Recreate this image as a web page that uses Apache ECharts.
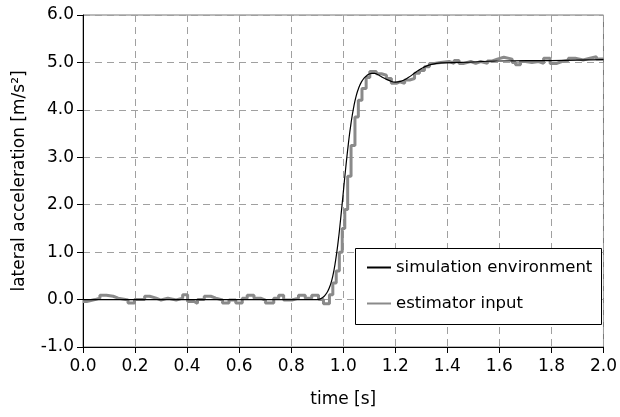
<!DOCTYPE html>
<html>
<head>
<meta charset="utf-8">
<title>lateral acceleration</title>
<script src="https://cdn.jsdelivr.net/npm/echarts@6/dist/echarts.min.js"></script>
<style>
  html, body { margin: 0; padding: 0; background: #fff; }
  #charts { width: 620px; height: 417px; }
</style>
</head>
<body>
<div id="charts"></div>
<script>
// 仿真环境（黑色平滑曲线）
var simTime  = [0.0, 0.5, 0.88, 0.9, 0.91, 0.92, 0.93, 0.94, 0.95, 0.96, 0.97, 0.98, 0.99, 1.0, 1.01, 1.02, 1.03, 1.04, 1.05,
  1.06, 1.07, 1.08, 1.09, 1.1, 1.11, 1.12, 1.13, 1.14, 1.16, 1.18, 1.2, 1.22, 1.25, 1.28, 1.31, 1.34, 1.38, 1.45, 1.6, 1.8, 2.0];
var simValue = [0.0, 0.0, 0.0, 0.0, 0.01, 0.04, 0.09, 0.17, 0.3, 0.5, 0.8, 1.2, 1.7, 2.25, 2.8, 3.3, 3.72, 4.05, 4.3,
  4.47, 4.59, 4.67, 4.72, 4.755, 4.77, 4.77, 4.75, 4.72, 4.66, 4.61, 4.585, 4.6, 4.68, 4.8, 4.9, 4.96, 4.99, 5.0, 5.03, 5.04, 5.06];

// 估计器输入（灰色阶梯），每个时间点开始保持对应的值
var estTime = [0.0, 0.014, 0.046, 0.065, 0.09, 0.116, 0.135, 0.173, 0.198, 0.237, 0.256, 0.281, 0.3, 0.326, 0.358, 0.383, 0.402, 0.427, 0.44, 0.466,
  0.491, 0.51, 0.536, 0.561, 0.587, 0.612, 0.631, 0.657, 0.682, 0.701, 0.733, 0.752, 0.771, 0.803, 0.828, 0.854, 0.879, 0.905, 0.924,
  0.947, 0.96, 0.973, 0.985, 0.996, 1.006, 1.017, 1.03, 1.045, 1.058, 1.072, 1.088, 1.102, 1.127, 1.147, 1.166, 1.185, 1.204, 1.217,
  1.236, 1.255, 1.274, 1.293, 1.312, 1.331, 1.35, 1.375, 1.382, 1.407, 1.426, 1.445, 1.464, 1.49, 1.509, 1.528, 1.554, 1.573, 1.592,
  1.617, 1.649, 1.662, 1.681, 1.7, 1.725, 1.751, 1.77, 1.795, 1.821, 1.84, 1.865, 1.891, 1.922, 1.948, 1.973, 2.0];
var estValue = [-0.04, 0.0, 0.03, 0.09, 0.07, 0.03, -0.01, -0.07, 0.0, 0.07, 0.03, -0.01, 0.03, -0.01, 0.03, 0.1, -0.04, -0.08, 0.0, 0.07,
  0.03, -0.01, -0.07, -0.01, -0.07, 0.03, 0.09, 0.03, -0.01, -0.07, 0.03, 0.09, -0.01, 0.03, 0.09, 0.03, 0.09, 0.0, -0.09,
  0.1, 0.35, 0.6, 1.0, 1.5, 1.9, 2.6, 3.25, 3.85, 4.2, 4.45, 4.68, 4.81, 4.76, 4.73, 4.66, 4.56, 4.59, 4.56,
  4.63, 4.66, 4.77, 4.83, 4.91, 4.98, 5.0, 4.98, 5.02, 4.98, 5.04, 4.98, 5.02, 4.98, 5.02, 4.98, 5.03, 5.07, 5.11,
  5.07, 5.0, 4.95, 5.02, 5.0, 5.02, 4.98, 5.09, 4.98, 5.02, 5.04, 5.09, 5.05, 5.09, 5.12, 5.07, 5.07];

var seriesNames = ['simulation environment', 'estimator input'];

function pairs(xs, ys) {
  var out = [];
  for (var i = 0; i < xs.length; i++) out.push([xs[i], ys[i]]);
  return out;
}

var fontName = 'DejaVu Sans';
var myChart = echarts.init(document.getElementById('charts'));

var option = {
  animation: false,
  backgroundColor: '#fff',
  textStyle: { fontFamily: fontName },
  grid: {
    left: 83, right: 13, top: 15, bottom: 70,
    show: true, borderColor: '#777', borderWidth: 1
  },
  // 图例外框
  graphic: [{
    type: 'rect',
    shape: { x: 355.5, y: 248.5, width: 246, height: 76 },
    style: { fill: '#fff', stroke: '#000', lineWidth: 1 },
    z: 10
  }],
  legend: {
    orient: 'vertical',
    left: 366, top: 259,
    itemWidth: 24, itemHeight: 14, itemGap: 19,
    padding: 0,
    itemStyle: { opacity: 0 },   // 只显示线，不显示圆点
    textStyle: { fontSize: 16.5, color: '#000', fontFamily: fontName },
    data: seriesNames,
    z: 11
  },
  xAxis: {
    type: 'value',
    min: 0, max: 2, interval: 0.2,
    name: 'time [s]', nameLocation: 'middle', nameGap: 44,
    nameTextStyle: { fontSize: 17, color: '#000', fontFamily: fontName },
    axisLine: { onZero: false, lineStyle: { color: '#000', width: 1 } },
    axisTick: { show: true, length: 6, lineStyle: { color: '#000' } },
    axisLabel: {
      fontSize: 17, color: '#000', margin: 11,
      formatter: function (v) { return v.toFixed(1); }
    },
    splitLine: { show: true, lineStyle: { color: '#a0a0a0', type: [7, 5], width: 1 } }
  },
  yAxis: {
    type: 'value',
    min: -1, max: 6, interval: 1,
    name: 'lateral acceleration [m/s²]', nameLocation: 'middle', nameGap: 55,
    nameTextStyle: { fontSize: 17, color: '#000', fontFamily: fontName },
    axisLine: { show: true, lineStyle: { color: '#000', width: 1 } },
    axisTick: { show: true, length: 6, lineStyle: { color: '#000' } },
    axisLabel: {
      fontSize: 17, color: '#000', margin: 9,
      formatter: function (v) { return v.toFixed(1); }
    },
    splitLine: { show: true, lineStyle: { color: '#a0a0a0', type: [7, 5], width: 1 } }
  },
  series: [
    {
      name: seriesNames[0],
      type: 'line',
      data: pairs(simTime, simValue),
      smooth: true,
      symbol: 'none',
      lineStyle: { color: '#000', width: 1.2 },
      itemStyle: { color: '#000' },
      z: 4
    },
    {
      name: seriesNames[1],
      type: 'line',
      data: pairs(estTime, estValue),
      step: 'end',
      symbol: 'none',
      lineStyle: { color: '#8a8a8a', width: 3 },
      itemStyle: { color: '#8a8a8a' },
      z: 3
    }
  ]
};

myChart.setOption(option);
</script>
</body>
</html>
